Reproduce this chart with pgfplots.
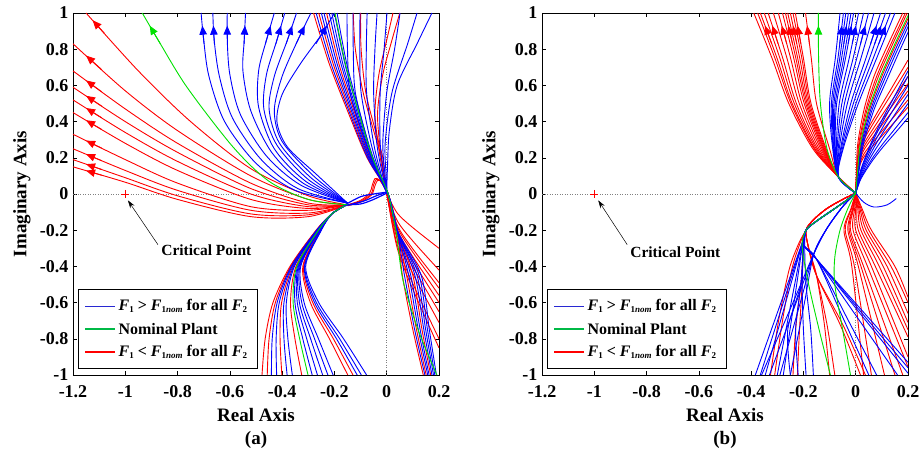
\documentclass[border=0pt]{standalone}
\usepackage{fontspec}
\setmainfont{Liberation Serif}
\usepackage{pgfplots}
\pgfplotsset{compat=1.18}
\usetikzlibrary{arrows.meta}
\definecolor{mblue}{RGB}{0,0,255}
\definecolor{mred}{RGB}{255,0,0}
\definecolor{mgreen}{RGB}{0,225,0}
\definecolor{lblue}{RGB}{40,40,210}
\definecolor{lgreen}{RGB}{0,185,70}
\pgfplotsset{
 B/.style={mblue, line width=0.9pt, smooth, forget plot},
 R/.style={mred, line width=0.9pt, smooth, forget plot},
 G/.style={mgreen, line width=0.9pt, smooth, forget plot},
 AR/.style={#1, line width=0.9pt, forget plot, -{Triangle[length=9pt,width=7.5pt]}},
 DOT/.style={gray, dotted, line width=0.5pt, forget plot},
 myaxis/.style={
  width=366pt, height=362pt, scale only axis,
  xmin=-1.2, xmax=0.2, ymin=-1, ymax=1,
  xtick={-1.2,-1,-0.8,-0.6,-0.4,-0.2,0,0.2},
  xticklabels={\textbf{-1.2},\textbf{-1},\textbf{-0.8},\textbf{-0.6},\textbf{-0.4},\textbf{-0.2},\textbf{0},\textbf{0.2}},
  ytick={-1,-0.8,-0.6,-0.4,-0.2,0,0.2,0.4,0.6,0.8,1},
  yticklabels={\textbf{-1},\textbf{-0.8},\textbf{-0.6},\textbf{-0.4},\textbf{-0.2},\textbf{0},\textbf{0.2},\textbf{0.4},\textbf{0.6},\textbf{0.8},\textbf{1}},
  tick label style={font=\fontsize{18}{20}\selectfont\bfseries},
  xticklabel style={yshift=-7pt},
  yticklabel style={xshift=-1pt},
  tick align=inside, major tick length=4pt, tick style={black, line width=0.5pt},
  axis line style={line width=0.8pt},
  clip mode=individual,
 }
}
\newcommand{\lbl}{\fontsize{19}{21}\selectfont\bfseries}
\newcommand{\lgf}{\fontsize{16}{18}\selectfont\bfseries}
\newcommand{\sub}[1]{\raisebox{-0.25ex}{\fontsize{9}{10}\selectfont #1}}
\newcommand{\entA}{\textit{F}\sub{1} > \textit{F}\sub{1\textit{nom}} for all \textit{F}\sub{2}}
\newcommand{\entC}{\textit{F}\sub{1} < \textit{F}\sub{1\textit{nom}} for all \textit{F}\sub{2}}
\newcommand{\mylegend}{%
 \draw[black, line width=1pt, fill=white] (axis description cs:0.016,0.019) rectangle (axis description cs:0.503,0.235);
 \draw[lblue, line width=1.4pt] (axis description cs:0.033,0.190) -- (axis description cs:0.115,0.190);
 \node[anchor=west, font=\lgf, inner sep=0pt] at (axis description cs:0.124,0.190) {\entA};
 \draw[lgreen, line width=1.4pt] (axis description cs:0.033,0.127) -- (axis description cs:0.115,0.127);
 \node[anchor=west, font=\lgf, inner sep=0pt] at (axis description cs:0.124,0.127) {Nominal Plant};
 \draw[mred, line width=1.4pt] (axis description cs:0.033,0.064) -- (axis description cs:0.115,0.064);
 \node[anchor=west, font=\lgf, inner sep=0pt] at (axis description cs:0.124,0.064) {\entC};
}
\begin{document}
\begin{tikzpicture}
\path[use as bounding box] (-73pt,-80pt) rectangle (848pt,375pt);
%%%%%%%%%%%%%%%%%%%%%%%%%%%% PANEL A
\begin{axis}[myaxis]
\addplot[DOT] coordinates {(0,-1) (0,1)};
\addplot[DOT] coordinates {(-1.2,0) (0.2,0)};
% red upper-left fan
\addplot[R] coordinates {(-1.15,1.0) (-0.95,0.68) (-0.75,0.40) (-0.52,0.14) (-0.3,-0.01) (-0.15,-0.06)};
\addplot[R] coordinates {(-1.2,0.83) (-1.0,0.57) (-0.8,0.35) (-0.52,0.10) (-0.3,-0.03) (-0.15,-0.06)};
\addplot[R] coordinates {(-1.2,0.68) (-1.0,0.47) (-0.8,0.28) (-0.52,0.06) (-0.3,-0.05) (-0.15,-0.06)};
\addplot[R] coordinates {(-1.2,0.59) (-1.0,0.40) (-0.8,0.23) (-0.52,0.03) (-0.3,-0.06) (-0.15,-0.06)};
\addplot[R] coordinates {(-1.2,0.52) (-1.0,0.34) (-0.8,0.18) (-0.52,0.0) (-0.3,-0.07) (-0.15,-0.06)};
\addplot[R] coordinates {(-1.2,0.45) (-1.0,0.28) (-0.8,0.13) (-0.52,-0.03) (-0.3,-0.08) (-0.15,-0.06)};
\addplot[R] coordinates {(-1.2,0.33) (-1.0,0.19) (-0.8,0.06) (-0.52,-0.07) (-0.3,-0.09) (-0.15,-0.06)};
\addplot[R] coordinates {(-1.2,0.25) (-1.0,0.13) (-0.8,0.02) (-0.52,-0.09) (-0.3,-0.105) (-0.15,-0.06)};
\addplot[R] coordinates {(-1.2,0.19) (-1.0,0.09) (-0.8,-0.01) (-0.52,-0.11) (-0.3,-0.115) (-0.15,-0.06)};
\addplot[R] coordinates {(-1.2,0.15) (-1.0,0.065) (-0.8,-0.03) (-0.52,-0.125) (-0.3,-0.125) (-0.15,-0.06)};
\addplot[AR=mred] coordinates {(-1.08,0.888) (-1.125,0.96)};
\addplot[AR=mred] coordinates {(-1.09,0.687) (-1.15,0.765)};
\addplot[AR=mred] coordinates {(-1.09,0.5645) (-1.15,0.6275)};
\addplot[AR=mred] coordinates {(-1.09,0.4855) (-1.15,0.5425)};
\addplot[AR=mred] coordinates {(-1.09,0.421) (-1.15,0.475)};
\addplot[AR=mred] coordinates {(-1.09,0.3565) (-1.15,0.4075)};
\addplot[AR=mred] coordinates {(-1.09,0.253) (-1.15,0.295)};
\addplot[AR=mred] coordinates {(-1.09,0.184) (-1.15,0.22)};
\addplot[AR=mred] coordinates {(-1.09,0.135) (-1.15,0.165)};
\addplot[AR=mred] coordinates {(-1.09,0.1035) (-1.15,0.129)};
% red loops near origin
\addplot[R] coordinates {(-0.15,-0.06) (-0.1,-0.04) (-0.06,0.0) (-0.05,0.05) (-0.04,0.08) (-0.025,0.075) (-0.01,0.04) (0.0,0.01)};
\addplot[R] coordinates {(-0.15,-0.06) (-0.1,-0.035) (-0.065,0.005) (-0.055,0.05) (-0.045,0.085) (-0.03,0.08) (-0.012,0.045) (0.0,0.01)};
\addplot[R] coordinates {(-0.15,-0.065) (-0.1,-0.045) (-0.058,-0.005) (-0.045,0.045) (-0.035,0.075) (-0.02,0.07) (-0.008,0.035) (0.0,0.01)};
% red top-right
\addplot[R] coordinates {(-0.128,1) (-0.12,0.8) (-0.09,0.56) (-0.05,0.35) (-0.02,0.2) (-0.01,0.08) (0,0.01)};
\addplot[R] coordinates {(-0.10,1) (-0.098,0.8) (-0.08,0.56) (-0.045,0.36) (-0.015,0.2) (-0.008,0.08) (0,0.01)};
\addplot[R] coordinates {(0.024,1) (0.0,0.85) (-0.03,0.66) (-0.045,0.45) (-0.03,0.25) (-0.01,0.08) (0,0.01)};
\addplot[R] coordinates {(0.05,1) (0.02,0.85) (-0.015,0.66) (-0.035,0.45) (-0.025,0.25) (-0.008,0.08) (0,0.01)};
% red steep bundle
\addplot[R] coordinates {(-0.28,1) (-0.22,0.72) (-0.15,0.46) (-0.075,0.2) (0.003,0.01) (0.04,-0.2) (0.06,-0.45) (0.10,-0.75) (0.14,-1)};
\addplot[R] coordinates {(-0.26,1) (-0.205,0.72) (-0.14,0.46) (-0.07,0.2) (0.003,0.01) (0.04,-0.2) (0.076,-0.45) (0.114,-0.75) (0.151,-1)};
\addplot[R] coordinates {(-0.23,1) (-0.183,0.72) (-0.125,0.46) (-0.063,0.2) (0.003,0.01) (0.04,-0.2) (0.10,-0.45) (0.135,-0.75) (0.168,-1)};
% red lower-left
\addplot[R] coordinates {(-0.16,-0.065) (-0.21,-0.11) (-0.27,-0.2) (-0.37,-0.4) (-0.435,-0.6) (-0.465,-0.8) (-0.477,-1)};
\addplot[R] coordinates {(-0.16,-0.065) (-0.21,-0.11) (-0.269,-0.2) (-0.367,-0.4) (-0.426,-0.6) (-0.45,-0.8) (-0.457,-1)};
\addplot[R] coordinates {(-0.16,-0.065) (-0.21,-0.11) (-0.266,-0.2) (-0.359,-0.4) (-0.402,-0.6) (-0.408,-0.8) (-0.401,-1)};
\addplot[R] coordinates {(-0.16,-0.065) (-0.21,-0.11) (-0.262,-0.2) (-0.347,-0.4) (-0.368,-0.6) (-0.351,-0.8) (-0.325,-1)};
\addplot[R] coordinates {(-0.16,-0.065) (-0.21,-0.11) (-0.254,-0.2) (-0.321,-0.4) (-0.292,-0.6) (-0.219,-0.8) (-0.149,-1)};
\addplot[R] coordinates {(-0.16,-0.065) (-0.21,-0.11) (-0.253,-0.2) (-0.318,-0.4) (-0.283,-0.6) (-0.204,-0.8) (-0.129,-1)};
% red lower-right
\addplot[R] coordinates {(0,0.005) (0.04,-0.105) (0.1,-0.186) (0.2,-0.30)};
\addplot[R] coordinates {(0,0.005) (0.04,-0.147) (0.1,-0.26) (0.2,-0.42)};
\addplot[R] coordinates {(0,0.005) (0.04,-0.172) (0.1,-0.304) (0.2,-0.49)};
\addplot[R] coordinates {(0,0.005) (0.04,-0.182) (0.1,-0.322) (0.2,-0.52)};
\addplot[R] coordinates {(0,0.005) (0.04,-0.196) (0.1,-0.347) (0.2,-0.56)};
\addplot[R] coordinates {(0,0.005) (0.04,-0.21) (0.1,-0.372) (0.2,-0.60)};
\addplot[R] coordinates {(0,0.005) (0.04,-0.228) (0.1,-0.403) (0.2,-0.65)};
\addplot[R] coordinates {(0,0.005) (0.04,-0.249) (0.1,-0.44) (0.2,-0.71)};
\addplot[R] coordinates {(0,0.005) (0.04,-0.28) (0.1,-0.496) (0.2,-0.80)};
\addplot[R] coordinates {(0,0.005) (0.04,-0.298) (0.1,-0.527) (0.2,-0.85)};
% blue upper arrows family
\addplot[B] coordinates {(-0.71,1.0) (-0.70,0.85) (-0.68,0.65) (-0.62,0.40) (-0.50,0.17) (-0.35,0.02) (-0.15,-0.05)};
\addplot[B] coordinates {(-0.665,1.0) (-0.66,0.85) (-0.64,0.65) (-0.59,0.42) (-0.48,0.19) (-0.34,0.03) (-0.15,-0.05)};
\addplot[B] coordinates {(-0.61,1) (-0.61,0.85) (-0.60,0.66) (-0.56,0.44) (-0.46,0.21) (-0.33,0.05) (-0.15,-0.05)};
\addplot[B] coordinates {(-0.54,1) (-0.545,0.85) (-0.55,0.68) (-0.52,0.46) (-0.44,0.23) (-0.32,0.06) (-0.15,-0.05)};
\addplot[B] coordinates {(-0.43,1) (-0.46,0.85) (-0.49,0.68) (-0.49,0.48) (-0.43,0.25) (-0.31,0.07) (-0.15,-0.05)};
\addplot[B] coordinates {(-0.39,1) (-0.42,0.85) (-0.46,0.66) (-0.47,0.47) (-0.42,0.27) (-0.30,0.08) (-0.15,-0.05)};
\addplot[B] coordinates {(-0.345,1) (-0.38,0.85) (-0.43,0.65) (-0.45,0.47) (-0.41,0.28) (-0.29,0.09) (-0.15,-0.05)};
\addplot[B] coordinates {(-0.29,1) (-0.34,0.85) (-0.40,0.65) (-0.43,0.46) (-0.40,0.29) (-0.28,0.10) (-0.15,-0.05)};
\addplot[B] coordinates {(-0.20,1) (-0.25,0.88) (-0.33,0.72) (-0.40,0.55) (-0.42,0.40) (-0.38,0.26) (-0.27,0.11) (-0.15,-0.05)};
\addplot[AR=mblue] coordinates {(-0.6987,0.83) (-0.7053,0.93)};
\addplot[AR=mblue] coordinates {(-0.6593,0.83) (-0.6627,0.93)};
\addplot[AR=mblue] coordinates {(-0.61,0.83) (-0.61,0.93)};
\addplot[AR=mblue] coordinates {(-0.5457,0.83) (-0.5423,0.93)};
\addplot[AR=mblue] coordinates {(-0.464,0.83) (-0.444,0.93)};
\addplot[AR=mblue] coordinates {(-0.424,0.83) (-0.404,0.93)};
\addplot[AR=mblue] coordinates {(-0.3847,0.83) (-0.3613,0.93)};
\addplot[AR=mblue] coordinates {(-0.3467,0.83) (-0.3133,0.93)};
\addplot[AR=mblue] coordinates {(-0.2708,0.83) (-0.229,0.93)};
% blue lens
\addplot[B, line width=1.2pt] coordinates {(-0.16,-0.06) (-0.1,-0.015) (-0.05,0.0) (0,0.01)};
\addplot[B, line width=1.2pt] coordinates {(-0.16,-0.06) (-0.1,-0.055) (-0.05,-0.03) (0,0.005)};
\addplot[B, line width=1.2pt] coordinates {(-0.16,-0.065) (-0.09,-0.04) (-0.04,-0.01) (0,0.01)};
% blue top-right
\addplot[B] coordinates {(-0.152,1) (-0.15,0.8) (-0.14,0.56) (-0.08,0.28) (-0.03,0.1) (0,0.01)};
\addplot[B] coordinates {(-0.129,1) (-0.128,0.8) (-0.12,0.56) (-0.07,0.28) (-0.027,0.1) (0,0.01)};
\addplot[B] coordinates {(-0.102,1) (-0.103,0.8) (-0.098,0.56) (-0.06,0.28) (-0.024,0.1) (0,0.01)};
\addplot[B] coordinates {(-0.075,1) (-0.078,0.8) (-0.077,0.56) (-0.05,0.28) (-0.02,0.1) (0,0.01)};
\addplot[B] coordinates {(-0.037,1) (-0.045,0.8) (-0.05,0.56) (-0.038,0.28) (-0.015,0.1) (0,0.01)};
\addplot[B] coordinates {(0.001,1) (-0.01,0.8) (-0.025,0.56) (-0.025,0.28) (-0.01,0.1) (0,0.01)};
\addplot[B] coordinates {(0.051,1) (0.03,0.8) (0.0,0.56) (-0.015,0.28) (-0.006,0.1) (0,0.01)};
\addplot[B] coordinates {(0.116,1) (0.08,0.83) (0.02,0.56) (-0.006,0.28) (-0.002,0.1) (0,0.01)};
\addplot[B] coordinates {(0.173,1) (0.116,0.83) (0.04,0.6) (0.01,0.35) (0.003,0.15) (0,0.01)};
% blue steep bundle
\addplot[B] coordinates {(-0.27,1) (-0.213,0.72) (-0.145,0.46) (-0.073,0.2) (0.003,0.01) (0.04,-0.2) (0.068,-0.45) (0.107,-0.75) (0.146,-1)};
\addplot[B] coordinates {(-0.25,1) (-0.198,0.72) (-0.135,0.46) (-0.068,0.2) (0.003,0.01) (0.04,-0.2) (0.084,-0.45) (0.121,-0.75) (0.157,-1)};
\addplot[B] coordinates {(-0.24,1) (-0.19,0.72) (-0.13,0.46) (-0.065,0.2) (0.003,0.01) (0.04,-0.2) (0.092,-0.45) (0.128,-0.75) (0.162,-1)};
\addplot[B] coordinates {(-0.22,1) (-0.175,0.72) (-0.12,0.46) (-0.06,0.2) (0.003,0.01) (0.04,-0.2) (0.108,-0.45) (0.142,-0.75) (0.173,-1)};
\addplot[B] coordinates {(-0.21,1) (-0.168,0.72) (-0.115,0.46) (-0.058,0.2) (0.003,0.01) (0.04,-0.2) (0.116,-0.45) (0.149,-0.75) (0.179,-1)};
\addplot[B] coordinates {(-0.20,1) (-0.16,0.72) (-0.11,0.46) (-0.055,0.2) (0.003,0.01) (0.04,-0.2) (0.124,-0.45) (0.156,-0.75) (0.184,-1)};
\addplot[B] coordinates {(-0.19,1) (-0.153,0.72) (-0.105,0.46) (-0.053,0.2) (0.003,0.01) (0.04,-0.2) (0.132,-0.45) (0.163,-0.75) (0.19,-1)};
% blue lower-left
\addplot[B] coordinates {(-0.16,-0.065) (-0.21,-0.11) (-0.268,-0.2) (-0.365,-0.4) (-0.419,-0.6) (-0.438,-0.8) (-0.441,-1)};
\addplot[B] coordinates {(-0.16,-0.065) (-0.21,-0.11) (-0.267,-0.2) (-0.362,-0.4) (-0.411,-0.6) (-0.423,-0.8) (-0.421,-1)};
\addplot[B] coordinates {(-0.16,-0.065) (-0.21,-0.11) (-0.265,-0.2) (-0.356,-0.4) (-0.393,-0.6) (-0.393,-0.8) (-0.381,-1)};
\addplot[B] coordinates {(-0.16,-0.065) (-0.21,-0.11) (-0.264,-0.2) (-0.353,-0.4) (-0.384,-0.6) (-0.378,-0.8) (-0.361,-1)};
\addplot[B] coordinates {(-0.16,-0.065) (-0.21,-0.11) (-0.26,-0.2) (-0.341,-0.4) (-0.351,-0.6) (-0.321,-0.8) (-0.285,-1)};
\addplot[B] coordinates {(-0.16,-0.065) (-0.21,-0.11) (-0.259,-0.2) (-0.338,-0.4) (-0.342,-0.6) (-0.306,-0.8) (-0.265,-1)};
\addplot[B] coordinates {(-0.16,-0.065) (-0.21,-0.11) (-0.258,-0.2) (-0.335,-0.4) (-0.334,-0.6) (-0.291,-0.8) (-0.245,-1)};
\addplot[B] coordinates {(-0.16,-0.065) (-0.21,-0.11) (-0.257,-0.2) (-0.332,-0.4) (-0.325,-0.6) (-0.276,-0.8) (-0.225,-1)};
\addplot[B] coordinates {(-0.16,-0.065) (-0.21,-0.11) (-0.256,-0.2) (-0.329,-0.4) (-0.316,-0.6) (-0.261,-0.8) (-0.205,-1)};
\addplot[B] coordinates {(-0.16,-0.065) (-0.21,-0.11) (-0.252,-0.2) (-0.315,-0.4) (-0.276,-0.6) (-0.192,-0.8) (-0.113,-1)};
\addplot[B] coordinates {(-0.16,-0.065) (-0.21,-0.11) (-0.251,-0.2) (-0.313,-0.4) (-0.269,-0.6) (-0.18,-0.8) (-0.097,-1)};
\addplot[B] coordinates {(-0.16,-0.065) (-0.21,-0.11) (-0.25,-0.2) (-0.31,-0.4) (-0.26,-0.6) (-0.165,-0.8) (-0.077,-1)};
% green nominal
\addplot[G] coordinates {(-0.935,1.0) (-0.87,0.84) (-0.764,0.59) (-0.588,0.26) (-0.45,0.07) (-0.3,-0.03) (-0.15,-0.06)};
\addplot[AR=mgreen] coordinates {(-0.866,0.83) (-0.9066,0.93)};
\addplot[G] coordinates {(-0.198,1) (-0.158,0.72) (-0.109,0.46) (-0.054,0.2) (0.003,0.01) (0.035,-0.2) (0.062,-0.475) (0.12,-0.75) (0.192,-1)};
\addplot[G] coordinates {(-0.16,-0.065) (-0.21,-0.11) (-0.261,-0.2) (-0.344,-0.4) (-0.358,-0.6) (-0.333,-0.8) (-0.301,-1)};
% critical point
\addplot[mred, only marks, mark=+, mark size=4pt, line width=0.8pt, forget plot] coordinates {(-1,0)};
\node[font=\fontsize{15.5}{17}\selectfont\bfseries] at (axis cs:-0.69,-0.31) {Critical Point};
\draw[-{Stealth[length=8pt,width=5pt]}, line width=0.5pt] (axis cs:-0.875,-0.28) -- (axis cs:-0.99,-0.035);
\mylegend
\node[font=\lbl] at (axis description cs:0.5,-0.11) {Real Axis};
\node[font=\lbl, rotate=90] at (axis description cs:-0.14,0.5) {Imaginary Axis};
\node[font=\lbl] at (axis description cs:0.5,-0.18) {(a)};
\end{axis}
%%%%%%%%%%%%%%%%%%%%%%%%%%%% PANEL B
\begin{axis}[myaxis, at={(469pt,0pt)}]
\addplot[DOT] coordinates {(0,-1) (0,1)};
\addplot[DOT] coordinates {(-1.2,0) (0.2,0)};
% red top fan
\addplot[R] coordinates {(-0.39,1) (-0.320,0.75) (-0.256,0.5) (-0.164,0.25) (-0.066,0.094) (0,0.005)};
\addplot[R] coordinates {(-0.375,1) (-0.309,0.75) (-0.248,0.5) (-0.159,0.25) (-0.066,0.094) (0,0.005)};
\addplot[R] coordinates {(-0.365,1) (-0.301,0.75) (-0.243,0.5) (-0.156,0.25) (-0.066,0.094) (0,0.005)};
\addplot[R] coordinates {(-0.35,1) (-0.290,0.75) (-0.235,0.5) (-0.151,0.25) (-0.066,0.094) (0,0.005)};
\addplot[R] coordinates {(-0.335,1) (-0.279,0.75) (-0.227,0.5) (-0.146,0.25) (-0.066,0.094) (0,0.005)};
\addplot[R] coordinates {(-0.315,1) (-0.263,0.75) (-0.216,0.5) (-0.140,0.25) (-0.066,0.094) (0,0.005)};
\addplot[R] coordinates {(-0.296,1) (-0.249,0.75) (-0.206,0.5) (-0.134,0.25) (-0.066,0.094) (0,0.005)};
\addplot[R] coordinates {(-0.28,1) (-0.237,0.75) (-0.197,0.5) (-0.129,0.25) (-0.066,0.094) (0,0.005)};
\addplot[R] coordinates {(-0.269,1) (-0.229,0.75) (-0.191,0.5) (-0.125,0.25) (-0.066,0.094) (0,0.005)};
\addplot[R] coordinates {(-0.26,1) (-0.222,0.75) (-0.186,0.5) (-0.122,0.25) (-0.066,0.094) (0,0.005)};
\addplot[R] coordinates {(-0.25,1) (-0.214,0.75) (-0.181,0.5) (-0.119,0.25) (-0.066,0.094) (0,0.005)};
\addplot[R] coordinates {(-0.24,1) (-0.206,0.75) (-0.176,0.5) (-0.116,0.25) (-0.066,0.094) (0,0.005)};
\addplot[R] coordinates {(-0.231,1) (-0.200,0.75) (-0.171,0.5) (-0.113,0.25) (-0.066,0.094) (0,0.005)};
\addplot[R] coordinates {(-0.192,1) (-0.170,0.75) (-0.150,0.5) (-0.100,0.25) (-0.066,0.094) (0,0.005)};
\addplot[AR=mred] coordinates {(-0.3215,0.83) (-0.347,0.93)};
\addplot[AR=mred] coordinates {(-0.2969,0.83) (-0.319,0.93)};
\addplot[AR=mred] coordinates {(-0.264,0.83) (-0.283,0.93)};
\addplot[AR=mred] coordinates {(-0.2418,0.83) (-0.258,0.93)};
\addplot[AR=mred] coordinates {(-0.2255,0.83) (-0.240,0.93)};
\addplot[AR=mred] coordinates {(-0.2099,0.83) (-0.2223,0.93)};
\addplot[AR=mred] coordinates {(-0.177,0.83) (-0.1858,0.93)};
% red right top group
\addplot[R] coordinates {(0,0.005) (0.003,0.14) (0.008,0.28) (0.0325,0.47) (0.07,0.65) (0.125,0.83) (0.18,1)};
\addplot[R] coordinates {(0,0.005) (0.005,0.14) (0.012,0.28) (0.0395,0.47) (0.08,0.65) (0.135,0.83) (0.19,1)};
\addplot[R] coordinates {(0,0.005) (0.0064,0.14) (0.0148,0.28) (0.0444,0.47) (0.087,0.65) (0.142,0.83) (0.197,1)};
\addplot[R] coordinates {(0,0.005) (0.009,0.14) (0.02,0.28) (0.0535,0.47) (0.1,0.65) (0.155,0.83) (0.21,1)};
% red right mid group
\addplot[R] coordinates {(0,0.005) (0.008,0.12) (0.03,0.202) (0.08,0.288) (0.14,0.384) (0.2,0.48)};
\addplot[R] coordinates {(0,0.005) (0.008,0.13) (0.03,0.218) (0.08,0.312) (0.14,0.416) (0.2,0.52)};
\addplot[R] coordinates {(0,0.005) (0.008,0.143) (0.03,0.239) (0.08,0.342) (0.14,0.456) (0.2,0.57)};
\addplot[R] coordinates {(0,0.005) (0.008,0.153) (0.03,0.256) (0.08,0.366) (0.14,0.488) (0.2,0.61)};
\addplot[R] coordinates {(0,0.005) (0.008,0.163) (0.03,0.273) (0.08,0.39) (0.14,0.52) (0.2,0.65)};
\addplot[R] coordinates {(0,0.005) (0.008,0.175) (0.03,0.294) (0.08,0.42) (0.14,0.56) (0.2,0.70)};
\addplot[R] coordinates {(0,0.005) (0.008,0.185) (0.03,0.311) (0.08,0.444) (0.14,0.592) (0.2,0.74)};
% red lower (arc + tails)
\addplot[R] coordinates {(0,0.005) (-0.05,-0.03) (-0.11,-0.08) (-0.16,-0.14) (-0.19,-0.2) (-0.22,-0.28) (-0.255,-0.42) (-0.295,-0.7) (-0.326,-1)};
\addplot[R] coordinates {(0,0.005) (-0.05,-0.03) (-0.11,-0.08) (-0.16,-0.14) (-0.19,-0.2) (-0.215,-0.28) (-0.245,-0.42) (-0.28,-0.7) (-0.31,-1)};
\addplot[R] coordinates {(0,0.005) (-0.05,-0.03) (-0.11,-0.08) (-0.16,-0.14) (-0.19,-0.2) (-0.2,-0.3) (-0.21,-0.5) (-0.23,-0.75) (-0.24,-1)};
\addplot[R] coordinates {(0,0.005) (-0.05,-0.03) (-0.11,-0.08) (-0.16,-0.14) (-0.19,-0.2) (-0.2,-0.3) (-0.205,-0.5) (-0.215,-0.75) (-0.223,-1)};
\addplot[R] coordinates {(0,0.005) (-0.05,-0.03) (-0.11,-0.08) (-0.16,-0.14) (-0.19,-0.2) (-0.18,-0.3) (-0.15,-0.45) (-0.12,-0.72) (-0.1,-1)};
\addplot[R] coordinates {(0,0.005) (-0.05,-0.03) (-0.11,-0.08) (-0.16,-0.14) (-0.19,-0.2) (-0.18,-0.3) (-0.15,-0.45) (-0.11,-0.72) (-0.08,-1)};
\addplot[R] coordinates {(0,0.005) (-0.05,-0.03) (-0.11,-0.08) (-0.16,-0.14) (-0.19,-0.2) (-0.18,-0.3) (-0.15,-0.45) (-0.06,-0.72) (0.018,-1)};
\addplot[R] coordinates {(0,0.005) (-0.05,-0.03) (-0.11,-0.08) (-0.16,-0.14) (-0.19,-0.2) (-0.18,-0.3) (-0.15,-0.45) (-0.05,-0.72) (0.037,-1)};
% red fan down-right
\addplot[R] coordinates {(0,0.005) (0.024,-0.08) (0.06,-0.2) (0.15,-0.4) (0.2,-0.57)};
\addplot[R] coordinates {(0,0.005) (0.02,-0.08) (0.05,-0.2) (0.135,-0.4) (0.2,-0.60)};
\addplot[R] coordinates {(0,0.005) (0.016,-0.08) (0.04,-0.2) (0.12,-0.4) (0.2,-0.66)};
\addplot[R] coordinates {(0,0.005) (0.012,-0.08) (0.03,-0.2) (0.105,-0.4) (0.2,-0.71)};
\addplot[R] coordinates {(0,0.005) (0.008,-0.08) (0.02,-0.2) (0.09,-0.4) (0.2,-0.75)};
\addplot[R] coordinates {(0,0.005) (0.004,-0.08) (0.01,-0.2) (0.075,-0.4) (0.2,-0.79)};
\addplot[R] coordinates {(0,0.005) (0.0,-0.08) (0.0,-0.2) (0.06,-0.4) (0.2,-0.90)};
\addplot[R] coordinates {(0,0.005) (-0.004,-0.08) (-0.01,-0.2) (0.045,-0.4) (0.2,-0.955)};
\addplot[R] coordinates {(0,0.005) (-0.008,-0.08) (-0.02,-0.2) (0.03,-0.4) (0.18,-1)};
\addplot[R] coordinates {(0,0.005) (-0.01,-0.08) (-0.025,-0.2) (0.02,-0.4) (0.15,-1)};
\addplot[R] coordinates {(0,0.005) (-0.012,-0.08) (-0.03,-0.2) (0.01,-0.4) (0.11,-1)};
\addplot[R] coordinates {(0,0.005) (-0.016,-0.08) (-0.04,-0.2) (-0.005,-0.4) (0.06,-1)};
\addplot[R] coordinates {(0,0.005) (-0.018,-0.08) (-0.045,-0.2) (-0.015,-0.4) (0.03,-1)};
% blue top fan
\addplot[B] coordinates {(-0.06,1) (-0.078,0.75) (-0.100,0.5) (-0.088,0.25) (-0.066,0.094) (0,0.005)};
\addplot[B] coordinates {(-0.047,1) (-0.068,0.75) (-0.093,0.5) (-0.086,0.25) (-0.066,0.094) (0,0.005)};
\addplot[B] coordinates {(-0.038,1) (-0.061,0.75) (-0.088,0.5) (-0.084,0.25) (-0.066,0.094) (0,0.005)};
\addplot[B] coordinates {(-0.028,1) (-0.054,0.75) (-0.083,0.5) (-0.082,0.25) (-0.066,0.094) (0,0.005)};
\addplot[B] coordinates {(-0.018,1) (-0.046,0.75) (-0.078,0.5) (-0.080,0.25) (-0.066,0.094) (0,0.005)};
\addplot[B] coordinates {(-0.008,1) (-0.039,0.75) (-0.073,0.5) (-0.078,0.25) (-0.066,0.094) (0,0.005)};
\addplot[B] coordinates {(0.011,1) (-0.025,0.75) (-0.063,0.5) (-0.074,0.25) (-0.066,0.094) (0,0.005)};
\addplot[B] coordinates {(0.03,1) (-0.010,0.75) (-0.053,0.5) (-0.071,0.25) (-0.066,0.094) (0,0.005)};
\addplot[B] coordinates {(0.049,1) (0.004,0.75) (-0.043,0.5) (-0.067,0.25) (-0.066,0.094) (0,0.005)};
\addplot[B] coordinates {(0.07,1) (0.020,0.75) (-0.032,0.5) (-0.063,0.25) (-0.066,0.094) (0,0.005)};
\addplot[B] coordinates {(0.095,1) (0.039,0.75) (-0.019,0.5) (-0.058,0.25) (-0.066,0.094) (0,0.005)};
\addplot[B] coordinates {(0.114,1) (0.053,0.75) (-0.009,0.5) (-0.055,0.25) (-0.066,0.094) (0,0.005)};
\addplot[B] coordinates {(0.133,1) (0.067,0.75) (0.001,0.5) (-0.051,0.25) (-0.066,0.094) (0,0.005)};
\addplot[B] coordinates {(0.15,1) (0.080,0.75) (0.010,0.5) (-0.048,0.25) (-0.066,0.094) (0,0.005)};
\addplot[AR=mblue] coordinates {(-0.0613,0.83) (-0.0529,0.93)};
\addplot[AR=mblue] coordinates {(-0.0457,0.83) (-0.0353,0.93)};
\addplot[AR=mblue] coordinates {(-0.0291,0.83) (-0.0167,0.93)};
\addplot[AR=mblue] coordinates {(-0.0135,0.83) (0.0009,0.93)};
\addplot[AR=mblue] coordinates {(0.0184,0.83) (0.0364,0.93)};
\addplot[AR=mblue] coordinates {(0.0569,0.83) (0.0793,0.93)};
\addplot[AR=mblue] coordinates {(0.0725,0.83) (0.0969,0.93)};
\addplot[AR=mblue] coordinates {(0.0881,0.83) (0.1145,0.93)};
% blue right top group
\addplot[B] coordinates {(0,0.005) (0.0104,0.14) (0.0228,0.28) (0.0584,0.47) (0.107,0.65) (0.162,0.83) (0.217,1)};
\addplot[B] coordinates {(0,0.005) (0.012,0.14) (0.026,0.28) (0.064,0.47) (0.115,0.65) (0.17,0.83) (0.225,1)};
\addplot[B] coordinates {(0,0.005) (0.014,0.14) (0.03,0.28) (0.071,0.47) (0.125,0.65) (0.18,0.83) (0.235,1)};
% blue right mid group
\addplot[B] coordinates {(0,0.005) (0.02,0.084) (0.06,0.176) (0.1,0.252) (0.15,0.336) (0.2,0.42)};
\addplot[B] coordinates {(0,0.005) (0.02,0.09) (0.06,0.189) (0.1,0.27) (0.15,0.36) (0.2,0.45)};
\addplot[B] coordinates {(0,0.005) (0.02,0.1) (0.06,0.21) (0.1,0.3) (0.15,0.4) (0.2,0.5)};
\addplot[B] coordinates {(0,0.005) (0.02,0.11) (0.06,0.231) (0.1,0.33) (0.15,0.44) (0.2,0.55)};
\addplot[B] coordinates {(0,0.005) (0.02,0.12) (0.06,0.252) (0.1,0.36) (0.15,0.48) (0.2,0.6)};
\addplot[B] coordinates {(0,0.005) (0.02,0.13) (0.06,0.273) (0.1,0.39) (0.15,0.52) (0.2,0.65)};
\addplot[B] coordinates {(0,0.005) (0.02,0.136) (0.06,0.286) (0.1,0.408) (0.15,0.544) (0.2,0.68)};
% blue hook
\addplot[B] coordinates {(0,0.005) (0.03,-0.045) (0.07,-0.072) (0.12,-0.06) (0.155,-0.025)};
% blue lower (arc + tails)
\addplot[B] coordinates {(0,0.005) (-0.04,-0.04) (-0.1,-0.1) (-0.155,-0.155) (-0.19,-0.2) (-0.2,-0.25) (-0.286,-0.6) (-0.384,-1)};
\addplot[B] coordinates {(0,0.005) (-0.04,-0.04) (-0.1,-0.1) (-0.155,-0.155) (-0.19,-0.2) (-0.2,-0.25) (-0.277,-0.6) (-0.365,-1)};
\addplot[B] coordinates {(0,0.005) (-0.04,-0.04) (-0.1,-0.1) (-0.155,-0.155) (-0.19,-0.2) (-0.2,-0.25) (-0.268,-0.6) (-0.346,-1)};
\addplot[B] coordinates {(0,0.005) (-0.04,-0.04) (-0.1,-0.1) (-0.155,-0.155) (-0.19,-0.2) (-0.2,-0.25) (-0.247,-0.6) (-0.30,-1)};
\addplot[B] coordinates {(0,0.005) (-0.04,-0.04) (-0.1,-0.1) (-0.155,-0.155) (-0.19,-0.2) (-0.2,-0.25) (-0.236,-0.6) (-0.277,-1)};
\addplot[B] coordinates {(0,0.005) (-0.04,-0.04) (-0.1,-0.1) (-0.155,-0.155) (-0.19,-0.2) (-0.2,-0.3) (-0.21,-0.5) (-0.26,-0.75) (-0.25,-1)};
\addplot[B] coordinates {(0,0.005) (-0.04,-0.04) (-0.1,-0.1) (-0.155,-0.155) (-0.19,-0.2) (-0.2,-0.3) (-0.21,-0.5) (-0.23,-0.75) (-0.22,-1)};
\addplot[B] coordinates {(0,0.005) (-0.04,-0.04) (-0.1,-0.1) (-0.155,-0.155) (-0.19,-0.2) (-0.2,-0.3) (-0.205,-0.5) (-0.2,-0.75) (-0.19,-1)};
\addplot[B] coordinates {(0,0.005) (-0.04,-0.04) (-0.1,-0.1) (-0.155,-0.155) (-0.19,-0.2) (-0.195,-0.3) (-0.19,-0.5) (-0.172,-0.75) (-0.162,-1)};
\addplot[B] coordinates {(0,0.005) (-0.04,-0.04) (-0.1,-0.1) (-0.155,-0.155) (-0.19,-0.2) (-0.2,-0.28) (-0.15,-0.36) (0.025,-0.645) (0.2,-0.93)};
\addplot[B] coordinates {(0,0.005) (-0.04,-0.04) (-0.1,-0.1) (-0.155,-0.155) (-0.19,-0.2) (-0.2,-0.28) (-0.15,-0.36) (0.025,-0.66) (0.2,-0.96)};
\addplot[B] coordinates {(0,0.005) (-0.04,-0.04) (-0.1,-0.1) (-0.155,-0.155) (-0.19,-0.2) (-0.2,-0.28) (-0.15,-0.36) (0.025,-0.675) (0.2,-0.99)};
\addplot[B] coordinates {(0,0.005) (-0.04,-0.04) (-0.1,-0.1) (-0.155,-0.155) (-0.19,-0.2) (-0.2,-0.28) (-0.15,-0.36) (0.005,-0.68) (0.16,-1)};
\addplot[B] coordinates {(0,0.005) (-0.04,-0.04) (-0.1,-0.1) (-0.155,-0.155) (-0.19,-0.2) (-0.2,-0.28) (-0.15,-0.36) (-0.035,-0.68) (0.08,-1)};
\addplot[B] coordinates {(0,0.005) (-0.04,-0.04) (-0.1,-0.1) (-0.155,-0.155) (-0.19,-0.2) (-0.2,-0.28) (-0.15,-0.36) (-0.05,-0.68) (0.05,-1)};
\addplot[B] coordinates {(0,0.005) (-0.05,-0.07) (-0.11,-0.19) (-0.16,-0.33) (-0.24,-0.6) (-0.36,-1)};
\addplot[B] coordinates {(0,0.005) (-0.05,-0.07) (-0.11,-0.19) (-0.16,-0.33) (-0.228,-0.6) (-0.33,-1)};
\addplot[B] coordinates {(0,0.005) (-0.05,-0.07) (-0.11,-0.19) (-0.16,-0.33) (-0.212,-0.6) (-0.29,-1)};
\addplot[B] coordinates {(0,0.005) (-0.05,-0.07) (-0.11,-0.19) (-0.16,-0.33) (-0.196,-0.6) (-0.25,-1)};
% green nominal
\addplot[G] coordinates {(-0.143,1) (-0.142,0.75) (-0.135,0.5) (-0.11,0.25) (-0.066,0.094) (0,0.005)};
\addplot[AR=mgreen] coordinates {(-0.1423,0.83) (-0.1427,0.93)};
\addplot[G] coordinates {(0,0.005) (0.008,0.14) (0.018,0.28) (0.05,0.47) (0.095,0.65) (0.15,0.83) (0.205,1)};
\addplot[G] coordinates {(0,0.005) (-0.04,-0.04) (-0.1,-0.1) (-0.155,-0.155) (-0.19,-0.2) (-0.205,-0.29) (-0.18,-0.5) (-0.14,-0.75) (-0.097,-1)};
\addplot[G] coordinates {(0,0.005) (-0.03,-0.08) (-0.06,-0.2) (-0.08,-0.35) (-0.08,-0.5) (-0.05,-0.75) (-0.02,-1)};
% critical point
\addplot[mred, only marks, mark=+, mark size=4pt, line width=0.8pt, forget plot] coordinates {(-1,0)};
\node[font=\fontsize{15.5}{17}\selectfont\bfseries] at (axis cs:-0.69,-0.32) {Critical Point};
\draw[-{Stealth[length=8pt,width=5pt]}, line width=0.5pt] (axis cs:-0.874,-0.28) -- (axis cs:-0.985,-0.035);
\mylegend
\node[font=\lbl] at (axis description cs:0.5,-0.11) {Real Axis};
\node[font=\lbl, rotate=90] at (axis description cs:-0.14,0.5) {Imaginary Axis};
\node[font=\lbl] at (axis description cs:0.5,-0.18) {(b)};
\end{axis}
\end{tikzpicture}
\end{document}
